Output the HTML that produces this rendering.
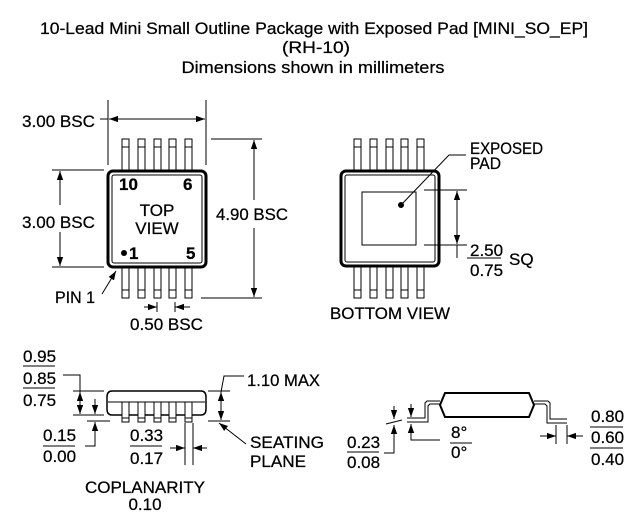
<!DOCTYPE html>
<html><head><style>
html,body{margin:0;padding:0;background:#fff}
svg{display:block}
text{font-family:"Liberation Sans",Arial,sans-serif;font-size:17px;fill:#000;stroke:#000;stroke-width:0.25}
</style></head><body>
<svg width="637" height="512" viewBox="0 0 637 512" xmlns="http://www.w3.org/2000/svg">
<defs>
<marker id="a" viewBox="0 0 10 10" refX="10" refY="5" markerWidth="9" markerHeight="9" markerUnits="userSpaceOnUse" orient="auto-start-reverse"><path d="M0,1.5 L10,5 L0,8.5z" fill="#000"/></marker>
</defs>
<g text-anchor="middle" lengthAdjust="spacingAndGlyphs">
<text x="314" y="34" textLength="548" lengthAdjust="spacingAndGlyphs">10-Lead Mini Small Outline Package with Exposed Pad [MINI_SO_EP]</text>
<text x="316" y="53" textLength="68" lengthAdjust="spacingAndGlyphs">(RH-10)</text>
<text x="313" y="73" textLength="263" lengthAdjust="spacingAndGlyphs">Dimensions shown in millimeters</text>
</g>
<g stroke="#000" fill="none" stroke-width="1">
<g id="lt">
<rect x="122" y="139" width="7" height="31"/><line x1="122" y1="147" x2="129" y2="147"/>
<rect x="138" y="139" width="7" height="31"/><line x1="138" y1="147" x2="145" y2="147"/>
<rect x="154" y="139" width="7" height="31"/><line x1="154" y1="147" x2="161" y2="147"/>
<rect x="169" y="139" width="7" height="31"/><line x1="169" y1="147" x2="176" y2="147"/>
<rect x="185" y="139" width="7" height="31"/><line x1="185" y1="147" x2="192" y2="147"/>
</g>
<g transform="translate(0,437) scale(1,-1)"><use href="#lt"/></g>
<rect x="108" y="171" width="98" height="96" rx="5" stroke-width="3" fill="#fff"/>
<rect x="112" y="175" width="90" height="88" rx="2"/>
<line x1="108" y1="100" x2="108" y2="165"/><line x1="206" y1="100" x2="206" y2="165"/>
<line x1="100" y1="119" x2="108" y2="119"/>
<line x1="109" y1="119" x2="205" y2="119" marker-start="url(#a)" marker-end="url(#a)"/>
<line x1="52" y1="170" x2="104" y2="170"/><line x1="52" y1="267" x2="104" y2="267"/>
<line x1="60" y1="171" x2="60" y2="205" marker-start="url(#a)"/><line x1="60" y1="232" x2="60" y2="266" marker-end="url(#a)"/>
<line x1="211" y1="139" x2="262" y2="139"/><line x1="201" y1="298" x2="262" y2="298"/>
<line x1="254" y1="140" x2="254" y2="200" marker-start="url(#a)"/><line x1="254" y1="228" x2="254" y2="297" marker-end="url(#a)"/>
<line x1="102" y1="294" x2="116" y2="271" marker-end="url(#a)"/>
<line x1="144" y1="307" x2="157" y2="307" marker-end="url(#a)"/><line x1="157" y1="302" x2="157" y2="312"/>
<line x1="190" y1="307" x2="175" y2="307" marker-end="url(#a)"/><line x1="175" y1="302" x2="175" y2="312"/>
<g transform="translate(232,0)"><use href="#lt"/></g>
<g transform="translate(232,437) scale(1,-1)"><use href="#lt"/></g>
<rect x="341" y="171" width="98" height="95" rx="5" stroke-width="3" fill="#fff"/>
<rect x="345" y="175" width="90" height="87" rx="2"/>
<rect x="362" y="192" width="54" height="53"/>
<polyline points="401,205 449,155 466,155"/>
<line x1="424" y1="190" x2="467" y2="190"/><line x1="424" y1="245" x2="467" y2="245"/>
<line x1="457" y1="191" x2="457" y2="244" marker-start="url(#a)" marker-end="url(#a)"/>
<line x1="457" y1="245" x2="457" y2="258"/>
<line x1="467" y1="258" x2="501" y2="258"/>
<path d="M112,391 H201 Q206,391 206,397 V409 Q206,415 201,415 H112 Q107,415 107,409 V397 Q107,391 112,391Z" fill="#fff" stroke-width="1.5"/>
<line x1="108" y1="402" x2="205" y2="402"/>
<rect x="122" y="402" width="7" height="20" fill="#fff"/><line x1="122" y1="418" x2="129" y2="418"/>
<rect x="138" y="402" width="7" height="20" fill="#fff"/><line x1="138" y1="418" x2="145" y2="418"/>
<rect x="154" y="402" width="7" height="20" fill="#fff"/><line x1="154" y1="418" x2="161" y2="418"/>
<rect x="169" y="402" width="7" height="20" fill="#fff"/><line x1="169" y1="418" x2="176" y2="418"/>
<rect x="185" y="402" width="7" height="20" fill="#fff"/><line x1="185" y1="418" x2="192" y2="418"/>
<line x1="23" y1="366" x2="55" y2="366"/><line x1="23" y1="388" x2="55" y2="388"/>
<polyline points="63,375 80,375 80,392"/>
<line x1="73" y1="391" x2="104" y2="391"/><line x1="73" y1="415" x2="104" y2="415"/>
<line x1="87" y1="421" x2="110" y2="421"/>
<line x1="80" y1="392" x2="80" y2="414" marker-start="url(#a)" marker-end="url(#a)"/>
<line x1="95" y1="399" x2="95" y2="414" marker-end="url(#a)"/>
<line x1="95" y1="437" x2="95" y2="422" marker-end="url(#a)"/>
<polyline points="85,446 95,446 95,437"/>
<line x1="43" y1="446" x2="75" y2="446"/>
<line x1="130" y1="446" x2="162" y2="446"/>
<line x1="208" y1="391" x2="230" y2="391"/><line x1="208" y1="421" x2="230" y2="421"/>
<line x1="221" y1="392" x2="221" y2="420" marker-start="url(#a)" marker-end="url(#a)"/>
<polyline points="221,392 224,376 244,376"/>
<line x1="246" y1="444" x2="219" y2="423" marker-end="url(#a)"/>
<line x1="185" y1="423" x2="185" y2="465"/><line x1="193" y1="423" x2="193" y2="465"/>
<line x1="170" y1="448" x2="185" y2="448" marker-end="url(#a)"/>
<line x1="207" y1="448" x2="193" y2="448" marker-end="url(#a)"/>
<path d="M445,393 H529 L534,405 L529,417 H445 L440,405Z" stroke-width="2" fill="#fff"/>
<polyline points="440,401 427,401 425,403 425,418 407,418"/>
<polyline points="440,404 430,404 428,406 428,422 407,422"/>
<polyline points="534,401 548,401 550,403 550,419 567,419"/>
<polyline points="534,404 545,404 547,406 547,423 567,423"/>
<line x1="394" y1="406" x2="394" y2="419" marker-end="url(#a)"/>
<line x1="394" y1="438" x2="394" y2="425" marker-end="url(#a)"/>
<polyline points="384,453 394,453 394,437"/>
<line x1="386" y1="424" x2="402" y2="420"/>
<line x1="411" y1="404" x2="411" y2="417" marker-end="url(#a)"/>
<line x1="411" y1="437" x2="411" y2="424" marker-end="url(#a)"/>
<polyline points="411,437 411,440 440,440"/>
<line x1="347" y1="452" x2="379" y2="452"/>
<line x1="450" y1="443" x2="472" y2="443"/>
<line x1="556" y1="425" x2="556" y2="444"/><line x1="567" y1="425" x2="567" y2="444"/>
<line x1="540" y1="436" x2="556" y2="436" marker-end="url(#a)"/>
<line x1="583" y1="436" x2="567" y2="436" marker-end="url(#a)"/>
<line x1="590" y1="427" x2="623" y2="427"/><line x1="590" y1="448" x2="623" y2="448"/>
</g>
<circle cx="124" cy="253" r="3"/>
<circle cx="401" cy="205" r="3"/>
<text x="22" y="127" textLength="73" lengthAdjust="spacingAndGlyphs">3.00 BSC</text>
<text x="22" y="228" textLength="73" lengthAdjust="spacingAndGlyphs">3.00 BSC</text>
<text x="216" y="220" textLength="72" lengthAdjust="spacingAndGlyphs">4.90 BSC</text>
<text x="119" y="190" font-size="13" font-weight="bold">10</text>
<text x="183" y="190" font-size="13" font-weight="bold">6</text>
<text x="129" y="259" font-size="13" font-weight="bold">1</text>
<text x="186" y="259" font-size="13" font-weight="bold">5</text>
<text x="157" y="216" text-anchor="middle">TOP</text>
<text x="157" y="234" text-anchor="middle">VIEW</text>
<text x="55" y="303" textLength="40" lengthAdjust="spacingAndGlyphs">PIN 1</text>
<text x="130" y="330" textLength="73" lengthAdjust="spacingAndGlyphs">0.50 BSC</text>
<text x="470" y="154" font-size="15" textLength="73" lengthAdjust="spacingAndGlyphs">EXPOSED</text>
<text x="470" y="169" font-size="15" textLength="31" lengthAdjust="spacingAndGlyphs">PAD</text>
<text x="470" y="256">2.50</text>
<text x="470" y="276">0.75</text>
<text x="509" y="265">SQ</text>
<text x="330" y="319" textLength="120" lengthAdjust="spacingAndGlyphs">BOTTOM VIEW</text>
<text x="23" y="362">0.95</text>
<text x="23" y="384">0.85</text>
<text x="23" y="406">0.75</text>
<text x="247" y="386" textLength="73" lengthAdjust="spacingAndGlyphs">1.10 MAX</text>
<text x="43" y="441">0.15</text>
<text x="43" y="462">0.00</text>
<text x="130" y="441">0.33</text>
<text x="130" y="464">0.17</text>
<text x="250" y="448" textLength="74" lengthAdjust="spacingAndGlyphs">SEATING</text>
<text x="250" y="467" textLength="56" lengthAdjust="spacingAndGlyphs">PLANE</text>
<text x="145" y="493" text-anchor="middle" textLength="120" lengthAdjust="spacingAndGlyphs">COPLANARITY</text>
<text x="145" y="510" text-anchor="middle">0.10</text>
<text x="347" y="448">0.23</text>
<text x="347" y="468">0.08</text>
<text x="451" y="438">8°</text>
<text x="451" y="458">0°</text>
<text x="591" y="422">0.80</text>
<text x="591" y="443">0.60</text>
<text x="591" y="465">0.40</text>
</svg>
</body></html>
